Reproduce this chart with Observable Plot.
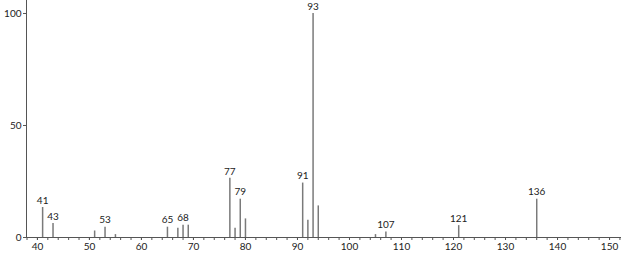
<!DOCTYPE html>
<html>
<head>
<meta charset="utf-8">
<script src="https://cdn.jsdelivr.net/npm/d3@7"></script>
<script src="https://cdn.jsdelivr.net/npm/@observablehq/plot@0.6"></script>
<style>
  html, body { margin: 0; padding: 0; background: #fff; }
  svg { display: block; }
</style>
</head>
<body>
<div id="chart"></div>
<script>
// m/z values and relative intensities
const mz =        [41,   43,  51,  53,  55,  65,  67,  68,  69,  77,   78,  79,   80,  91,   92,  93,  94,   105, 107, 121, 136];
const intensity = [13.4, 6.2, 2.9, 4.6, 1.3, 4.6, 4.1, 5.5, 5.5, 26.4, 4.1, 17.1, 8.3, 24.3, 7.7, 100, 14.1, 1.3, 2.5, 5.3, 17.1];
// labelled peaks
const labelMz = [41, 43, 53, 65, 68, 77, 79, 91, 93, 107, 121, 136];
// axis ticks
const xMajorTicks = [40, 50, 60, 70, 80, 90, 100, 110, 120, 130, 140, 150];
const xMinorTicks = d3.range(38, 153, 2);
const yTicks = [0, 50, 100];

const peaks = mz.map((m, i) => ({mz: m, int: intensity[i]}));
const labels = peaks.filter(d => labelMz.includes(d.mz));

const xMin = 37.9, xMax = 152.3;
const font = "Lato, 'DejaVu Sans', sans-serif";

const chart = Plot.plot({
  width: 623,
  height: 254,
  marginLeft: 26,
  marginRight: 2,
  marginTop: 0,
  marginBottom: 17,
  style: {fontFamily: font, fontSize: "10px", color: "#333", background: "#fff"},
  x: {domain: [xMin, xMax]},
  y: {domain: [0, 105.8]},
  marks: [
    Plot.axisX({ticks: xMinorTicks, tickSize: 3, tickFormat: () => "", stroke: "#555", label: null}),
    Plot.axisX({ticks: xMajorTicks, tickSize: 3, tickPadding: 2, stroke: "#555", fill: "#222", label: null}),
    Plot.axisY({ticks: yTicks, tickSize: 3, tickPadding: 2, stroke: "#555", fill: "#222", label: null}),
    Plot.ruleY([0], {stroke: "#555", strokeWidth: 1}),
    Plot.ruleX([xMin], {stroke: "#555", strokeWidth: 1}),
    Plot.ruleX(peaks, {x: "mz", y1: 0, y2: "int", stroke: "#7a7a7a", strokeWidth: 1.5}),
    Plot.text(labels, {x: "mz", y: "int", text: d => String(d.mz), dy: -7, fill: "#222", fontSize: 10})
  ]
});
document.getElementById("chart").appendChild(chart);
</script>
</body>
</html>
